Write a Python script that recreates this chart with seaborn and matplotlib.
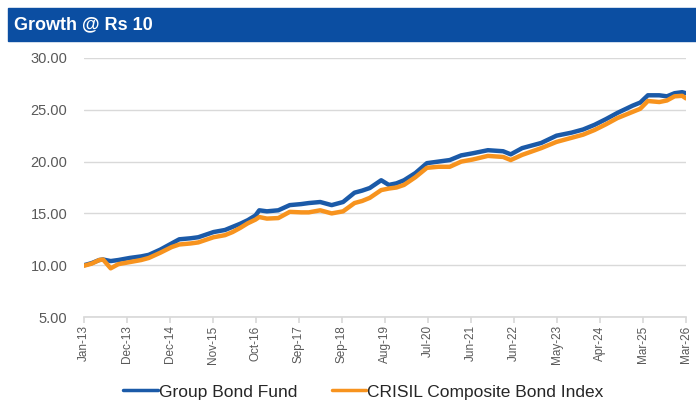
import pandas as pd
import matplotlib.pyplot as plt
import seaborn as sns
from matplotlib.patches import Rectangle

# ---- data (month offset from Jan-13, value) ----
months = [0, 2, 4, 5, 7, 9, 12, 15, 17, 20, 23, 25, 28, 30, 34, 37, 39, 41, 43, 45,
          46, 48, 51, 54, 57, 59, 62, 65, 68, 71, 73, 75, 78, 80, 82, 84, 87, 90,
          93, 96, 99, 102, 106, 110, 112, 115, 120, 124, 128, 131, 134, 137, 140,
          144, 146, 148, 151, 153, 155, 157, 158]
fund = [10.0, 10.2, 10.5, 10.55, 10.4, 10.5, 10.7, 10.85, 11.0, 11.5, 12.1, 12.5,
        12.6, 12.7, 13.2, 13.4, 13.7, 14.0, 14.35, 14.8, 15.3, 15.2, 15.3, 15.8,
        15.9, 16.0, 16.1, 15.8, 16.1, 17.0, 17.2, 17.45, 18.2, 17.75, 17.9, 18.2,
        18.9, 19.85, 20.0, 20.15, 20.6, 20.8, 21.1, 21.0, 20.7, 21.3, 21.8, 22.5,
        22.8, 23.1, 23.55, 24.1, 24.7, 25.4, 25.7, 26.4, 26.4, 26.3, 26.6, 26.7, 26.6]
index = [9.95, 10.15, 10.5, 10.55, 9.7, 10.1, 10.3, 10.5, 10.7, 11.2, 11.75, 12.0,
         12.1, 12.2, 12.7, 12.9, 13.2, 13.6, 14.05, 14.4, 14.65, 14.5, 14.55, 15.15,
         15.1, 15.1, 15.3, 15.0, 15.2, 16.0, 16.2, 16.5, 17.25, 17.4, 17.5, 17.75,
         18.5, 19.4, 19.5, 19.5, 20.0, 20.2, 20.55, 20.45, 20.15, 20.65, 21.3, 21.9,
         22.3, 22.6, 23.05, 23.6, 24.2, 24.8, 25.1, 25.85, 25.75, 25.9, 26.3, 26.35, 26.1]
tick_labels = ['Jan-13', 'Dec-13', 'Dec-14', 'Nov-15', 'Oct-16', 'Sep-17', 'Sep-18',
               'Aug-19', 'Jul-20', 'Jun-21', 'Jun-22', 'May-23', 'Apr-24', 'Mar-25', 'Mar-26']
series = ['Group Bond Fund', 'CRISIL Composite Bond Index']

df = pd.DataFrame({
    'month': months * 2,
    'value': fund + index,
    'series': [series[0]] * len(months) + [series[1]] * len(months),
})

sns.set_theme(style="white")
plt.rcParams['font.family'] = ['Liberation Sans', 'DejaVu Sans']

fig = plt.figure(figsize=(6.96, 4.07), dpi=100)
ax = fig.add_axes([0.1207, 0.2211, 0.8649, 0.6364])

# header bar
fig.patches.append(Rectangle((8 / 696, 1 - 41 / 407), 688 / 696, 33 / 407,
                             transform=fig.transFigure, color='#0b4ea2', zorder=0))
fig.text(14 / 696, 1 - 25 / 407, 'Growth @ Rs 10', color='white', fontsize=13,
         fontweight='bold', va='center', ha='left')

sns.lineplot(data=df, x='month', y='value', hue='series', hue_order=series,
             palette=['#1b5aa8', '#f7931e'], linewidth=3.2, ax=ax, legend=False)

ax.set_xlim(0, 158)
ax.set_ylim(5, 30)
ax.set_yticks([5, 10, 15, 20, 25, 30])
ax.set_yticklabels([f'{v:.2f}' for v in [5, 10, 15, 20, 25, 30]],
                   fontsize=10.5, color='#595959')
ax.set_xticks([i * 158 / 14 for i in range(15)])
ax.set_xticklabels(tick_labels, rotation=90, fontsize=8.5, color='#595959',
                   family=['Liberation Sans Narrow', 'Liberation Sans'])
ax.grid(axis='y', color='#d9d9d9', linewidth=1)
ax.set_axisbelow(True)
ax.set_xlabel('')
ax.set_ylabel('')
for s in ['top', 'right', 'left']:
    ax.spines[s].set_visible(False)
ax.spines['bottom'].set_color('#d9d9d9')
ax.tick_params(axis='x', length=4, color='#d9d9d9', pad=2, bottom=True)
ax.tick_params(axis='y', length=0, pad=12)

handles = [plt.Line2D([], [], color='#1b5aa8', linewidth=2.5),
           plt.Line2D([], [], color='#f7931e', linewidth=2.5)]
fig.legend(handles, series, loc='center', bbox_to_anchor=(0.522, 1 - 392 / 407),
           ncol=2, frameon=False, fontsize=12.5, handlelength=2.0, handletextpad=0.05,
           columnspacing=2.0)

fig.savefig('out.png', dpi=100, facecolor='white')
